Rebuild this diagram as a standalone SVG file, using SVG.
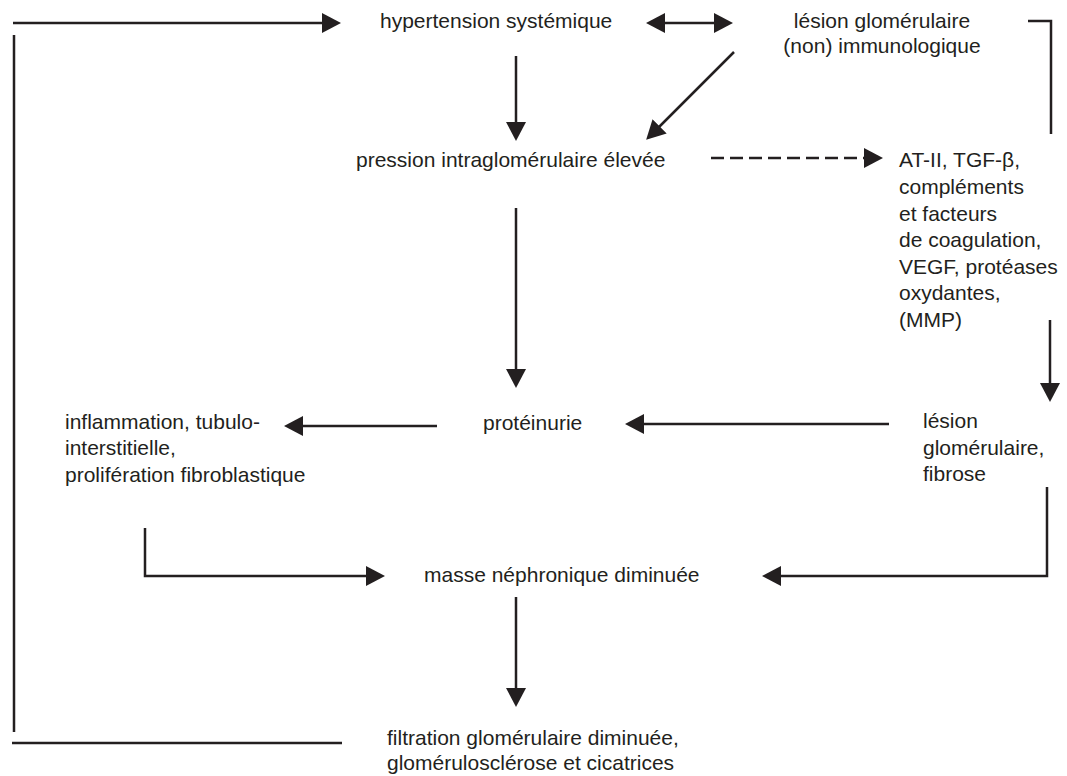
<svg xmlns="http://www.w3.org/2000/svg" width="1067" height="776" viewBox="0 0 1067 776">
<defs>
<marker id="ah" viewBox="0 0 19 20" refX="15" refY="10" markerWidth="19" markerHeight="20" markerUnits="userSpaceOnUse" orient="auto-start-reverse">
<path d="M0,0 L19,10 L0,20 z" fill="#231f20"/>
</marker>
<style>
text{font-family:"Liberation Sans",Arial,Helvetica,sans-serif;font-size:21px;fill:#231f20}
.c{text-anchor:middle}
.ln{fill:none;stroke:#231f20;stroke-width:2.5}
.ar{fill:none;stroke:#231f20;stroke-width:2.5;marker-end:url(#ah)}
.da{stroke-dasharray:13 6}
.bi{marker-start:url(#ah)}
</style>
</defs>
<rect width="1067" height="776" fill="#ffffff"/>
<g id="connectors">
<line class="ar" x1="13" y1="23" x2="337" y2="23"/>
<line class="ln" x1="14" y1="35" x2="14" y2="732"/>
<line class="ln" x1="12" y1="743" x2="342" y2="743"/>
<line class="ar" x1="516" y1="56" x2="516" y2="137"/>
<line class="ar bi" x1="650" y1="23" x2="729" y2="23"/>
<line class="ar" x1="734" y1="52" x2="649" y2="137"/>
<line class="ar da" x1="711" y1="158" x2="879" y2="158"/>
<polyline class="ln" points="1028,21 1051,21 1051,134"/>
<line class="ar" x1="1050" y1="320" x2="1050" y2="398"/>
<line class="ar" x1="889" y1="424" x2="629" y2="424"/>
<line class="ar" x1="516" y1="208" x2="516" y2="384"/>
<line class="ar" x1="437" y1="426" x2="288" y2="426"/>
<polyline class="ar" points="145,528 145,576 381,576"/>
<polyline class="ar" points="1047,487 1047,576 766,576"/>
<line class="ar" x1="516" y1="597" x2="516" y2="703"/>
</g>
<g id="n-hypertension"><text x="380" y="28">hypertension systémique</text></g>
<g id="n-lesion-immuno"><text class="c" x="882" y="28">lésion glomérulaire</text><text class="c" x="882" y="53">(non) immunologique</text></g>
<g id="n-pression"><text x="356" y="167">pression intraglomérulaire élevée</text></g>
<g id="n-facteurs">
<text x="899" y="167">AT-II, TGF-β,</text>
<text x="899" y="194">compléments</text>
<text x="899" y="221">et facteurs</text>
<text x="899" y="247">de coagulation,</text>
<text x="899" y="274">VEGF, protéases</text>
<text x="899" y="300">oxydantes,</text>
<text x="899" y="327">(MMP)</text>
</g>
<g id="n-proteinurie"><text x="483" y="430">protéinurie</text></g>
<g id="n-inflammation"><text x="65" y="429">inflammation, tubulo-</text><text x="65" y="455">interstitielle,</text><text x="65" y="482">prolifération fibroblastique</text></g>
<g id="n-lesion-fibrose"><text x="923" y="428">lésion</text><text x="923" y="455">glomérulaire,</text><text x="923" y="481">fibrose</text></g>
<g id="n-masse"><text x="424" y="582">masse néphronique diminuée</text></g>
<g id="n-filtration"><text x="387" y="745">filtration glomérulaire diminuée,</text><text x="387" y="770">glomérulosclérose et cicatrices</text></g>
</svg>
